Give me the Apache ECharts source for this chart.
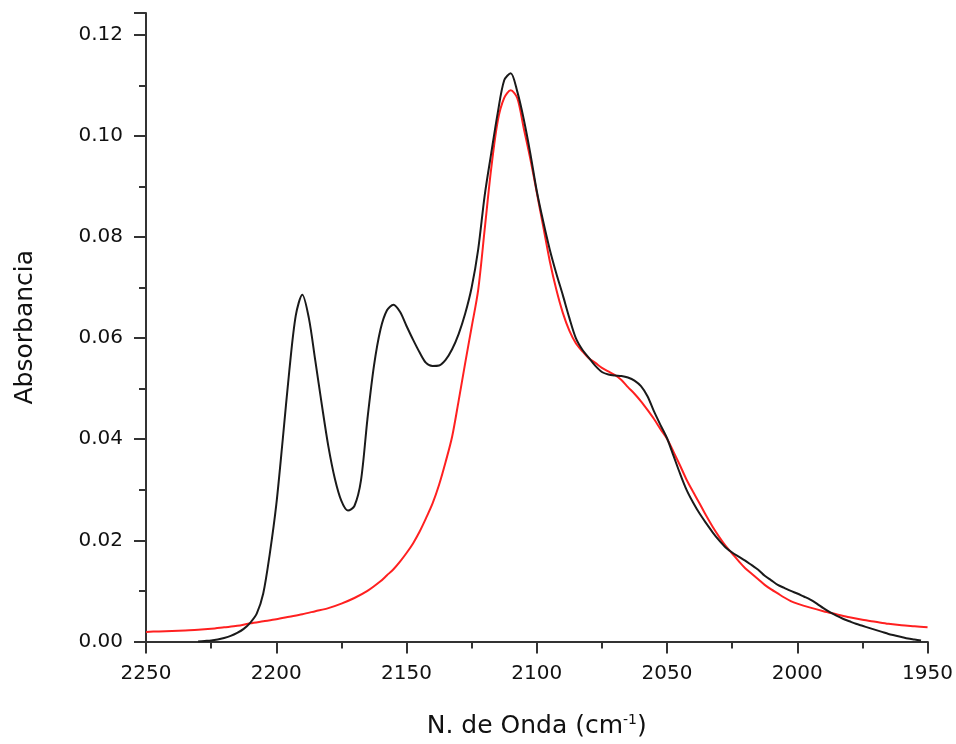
<!DOCTYPE html>
<html>
<head>
<meta charset="utf-8">
<script src="https://cdn.jsdelivr.net/npm/echarts@6/dist/echarts.min.js"></script>
<style>
html,body{margin:0;padding:0;background:#fff;}
#chart{width:956px;height:744px;}
</style>
</head>
<body>
<div id="chart"></div>
<script>
// Experimental spectrum (black): wavenumber (cm-1) and absorbance
const expWavenumber = [2230, 2227.5, 2225, 2222.5, 2220, 2217.5, 2215, 2212.5, 2210, 2207.5, 2205, 2202.5, 2200, 2197.5, 2195, 2192.5, 2190, 2187.5, 2185, 2182.5, 2180, 2177.5, 2175, 2172.5, 2170, 2167.5, 2165, 2162.5, 2160, 2157.5, 2155, 2152.5, 2150, 2147.5, 2145, 2142.5, 2140, 2137.5, 2135, 2132.5, 2130, 2127.5, 2125, 2122.5, 2120, 2117.5, 2115, 2112.5, 2110, 2107.5, 2105, 2102.5, 2100, 2097.5, 2095, 2092.5, 2090, 2087.5, 2085, 2082.5, 2080, 2077.5, 2075, 2072.5, 2070, 2067.5, 2065, 2062.5, 2060, 2057.5, 2055, 2052.5, 2050, 2047.5, 2045, 2042.5, 2040, 2037.5, 2035, 2032.5, 2030, 2027.5, 2025, 2022.5, 2020, 2017.5, 2015, 2012.5, 2010, 2007.5, 2005, 2002.5, 2000, 1997.5, 1995, 1992.5, 1990, 1987.5, 1985, 1982.5, 1980, 1977.5, 1975, 1972.5, 1970, 1967.5, 1965, 1962.5, 1960, 1957.5, 1955, 1952.5];
const expAbsorbance = [0.0, 0.0001, 0.0002, 0.0004, 0.0007, 0.0011, 0.0017, 0.0025, 0.0037, 0.0055, 0.0095, 0.0173, 0.0270, 0.0400, 0.0535, 0.0645, 0.0686, 0.0640, 0.0555, 0.0468, 0.0386, 0.0322, 0.0278, 0.0259, 0.0268, 0.0318, 0.0440, 0.0545, 0.0617, 0.0655, 0.0666, 0.0652, 0.0624, 0.0597, 0.0572, 0.0551, 0.0545, 0.0546, 0.0557, 0.0578, 0.0608, 0.0648, 0.0700, 0.0775, 0.0882, 0.0965, 0.1045, 0.1110, 0.1124, 0.1088, 0.1033, 0.0966, 0.0891, 0.0830, 0.0775, 0.0728, 0.0685, 0.0640, 0.0600, 0.0577, 0.0561, 0.0545, 0.0533, 0.0528, 0.0526, 0.0525, 0.0522, 0.0516, 0.0505, 0.0485, 0.0455, 0.0428, 0.0402, 0.0367, 0.0332, 0.0300, 0.0275, 0.0253, 0.0234, 0.0216, 0.0200, 0.0186, 0.0176, 0.0168, 0.0160, 0.0151, 0.0142, 0.0130, 0.0121, 0.0112, 0.0106, 0.0100, 0.0095, 0.0089, 0.0083, 0.0075, 0.0066, 0.0058, 0.0051, 0.0045, 0.0040, 0.0035, 0.0031, 0.0027, 0.0023, 0.0019, 0.0015, 0.0012, 0.0009, 0.0006, 0.0004, 0.0002];

// Fitted curve (red)
const fitWavenumber = [2250, 2245, 2240, 2235, 2230, 2225, 2220, 2215, 2210, 2205, 2200, 2195, 2190, 2185, 2180, 2175, 2170, 2165, 2160, 2157.5, 2155, 2152.5, 2150, 2147.5, 2145, 2142.5, 2140, 2137.5, 2135, 2132.5, 2130, 2127.5, 2125, 2122.5, 2120, 2117.5, 2115, 2112.5, 2110, 2107.5, 2105, 2102.5, 2100, 2097.5, 2095, 2092.5, 2090, 2087.5, 2085, 2082.5, 2080, 2077.5, 2075, 2072.5, 2070, 2067.5, 2065, 2062.5, 2060, 2057.5, 2055, 2052.5, 2050, 2047.5, 2045, 2042.5, 2040, 2037.5, 2035, 2032.5, 2030, 2027.5, 2025, 2022.5, 2020, 2017.5, 2015, 2012.5, 2010, 2007.5, 2005, 2002.5, 2000, 1995, 1990, 1985, 1980, 1975, 1970, 1965, 1960, 1955, 1950];
const fitAbsorbance = [0.0019, 0.0020, 0.0021, 0.0022, 0.0023, 0.0025, 0.0028, 0.0031, 0.0036, 0.0040, 0.0044, 0.0049, 0.0054, 0.0060, 0.0066, 0.0075, 0.0086, 0.0100, 0.0119, 0.0131, 0.0143, 0.0158, 0.0175, 0.0194, 0.0217, 0.0244, 0.0273, 0.0310, 0.0355, 0.0405, 0.0476, 0.0550, 0.0622, 0.0695, 0.0815, 0.0935, 0.1029, 0.1075, 0.1090, 0.1075, 0.1015, 0.0955, 0.0888, 0.0820, 0.0752, 0.0696, 0.0650, 0.0615, 0.0590, 0.0574, 0.0560, 0.0551, 0.0541, 0.0534, 0.0527, 0.0517, 0.0503, 0.0490, 0.0475, 0.0458, 0.0440, 0.0420, 0.0401, 0.0375, 0.0348, 0.0320, 0.0296, 0.0273, 0.0249, 0.0227, 0.0207, 0.0189, 0.0174, 0.0159, 0.0145, 0.0134, 0.0123, 0.0112, 0.0103, 0.0095, 0.0087, 0.0080, 0.0075, 0.0067, 0.0060, 0.0054, 0.0048, 0.0043, 0.0039, 0.0035, 0.0032, 0.0030, 0.0028];

const xTicks = [2250, 2200, 2150, 2100, 2050, 2000, 1950];
const yTicks = [0.00, 0.02, 0.04, 0.06, 0.08, 0.10, 0.12];

const expData = expWavenumber.map((x, i) => [x, expAbsorbance[i]]);
const fitData = fitWavenumber.map((x, i) => [x, fitAbsorbance[i]]);

const FONT = 'DejaVu Sans';
const chart = echarts.init(document.getElementById('chart'), null, {renderer: 'canvas'});
chart.setOption({
  animation: false,
  backgroundColor: '#ffffff',
  grid: {left: 146, right: 27, top: 13, bottom: 96, containLabel: false},
  xAxis: {
    type: 'value',
    inverse: true,
    min: xTicks[xTicks.length - 1],
    max: xTicks[0],
    interval: 50,
    name: 'N. de Onda (cm{sup|-1})',
    nameLocation: 'middle',
    nameGap: 72,
    nameTextStyle: {
      fontFamily: FONT, fontSize: 25, color: '#111',
      rich: {sup: {fontFamily: FONT, fontSize: 14, color: '#111', verticalAlign: 'top', padding: [0, 0, 12, 0]}}
    },
    axisLine: {show: true, onZero: false, lineStyle: {color: '#333', width: 2}},
    axisTick: {show: true, inside: false, length: 12, lineStyle: {color: '#333', width: 2}},
    minorTick: {show: true, splitNumber: 2, length: 7, lineStyle: {color: '#333', width: 2}},
    splitLine: {show: false},
    axisLabel: {fontFamily: FONT, fontSize: 20, color: '#111', margin: 22, formatter: v => String(v)}
  },
  yAxis: {
    type: 'value',
    min: 0,
    max: 0.1243,
    interval: 0.02,
    name: 'Absorbancia',
    nameLocation: 'middle',
    nameGap: 108,
    nameTextStyle: {fontFamily: FONT, fontSize: 25, color: '#111'},
    axisLine: {show: true, onZero: false, lineStyle: {color: '#333', width: 2}},
    axisTick: {show: true, inside: false, length: 12, lineStyle: {color: '#333', width: 2}},
    minorTick: {show: true, splitNumber: 2, length: 7, lineStyle: {color: '#333', width: 2}},
    splitLine: {show: false},
    axisLabel: {fontFamily: FONT, fontSize: 20, color: '#111', margin: 23, showMaxLabel: false,
      formatter: v => (yTicks.some(t => Math.abs(t - v) < 1e-9) ? v.toFixed(2) : '')}
  },
  series: [
    {
      name: 'Experimental', type: 'line', data: expData, showSymbol: false,
      smooth: 0.3,
      lineStyle: {color: '#1a1a1a', width: 2}, z: 3
    },
    {
      name: 'Ajuste', type: 'line', data: fitData, showSymbol: false,
      smooth: 0.3,
      lineStyle: {color: '#ff2020', width: 2}, z: 2
    }
  ]
});
</script>
</body>
</html>
